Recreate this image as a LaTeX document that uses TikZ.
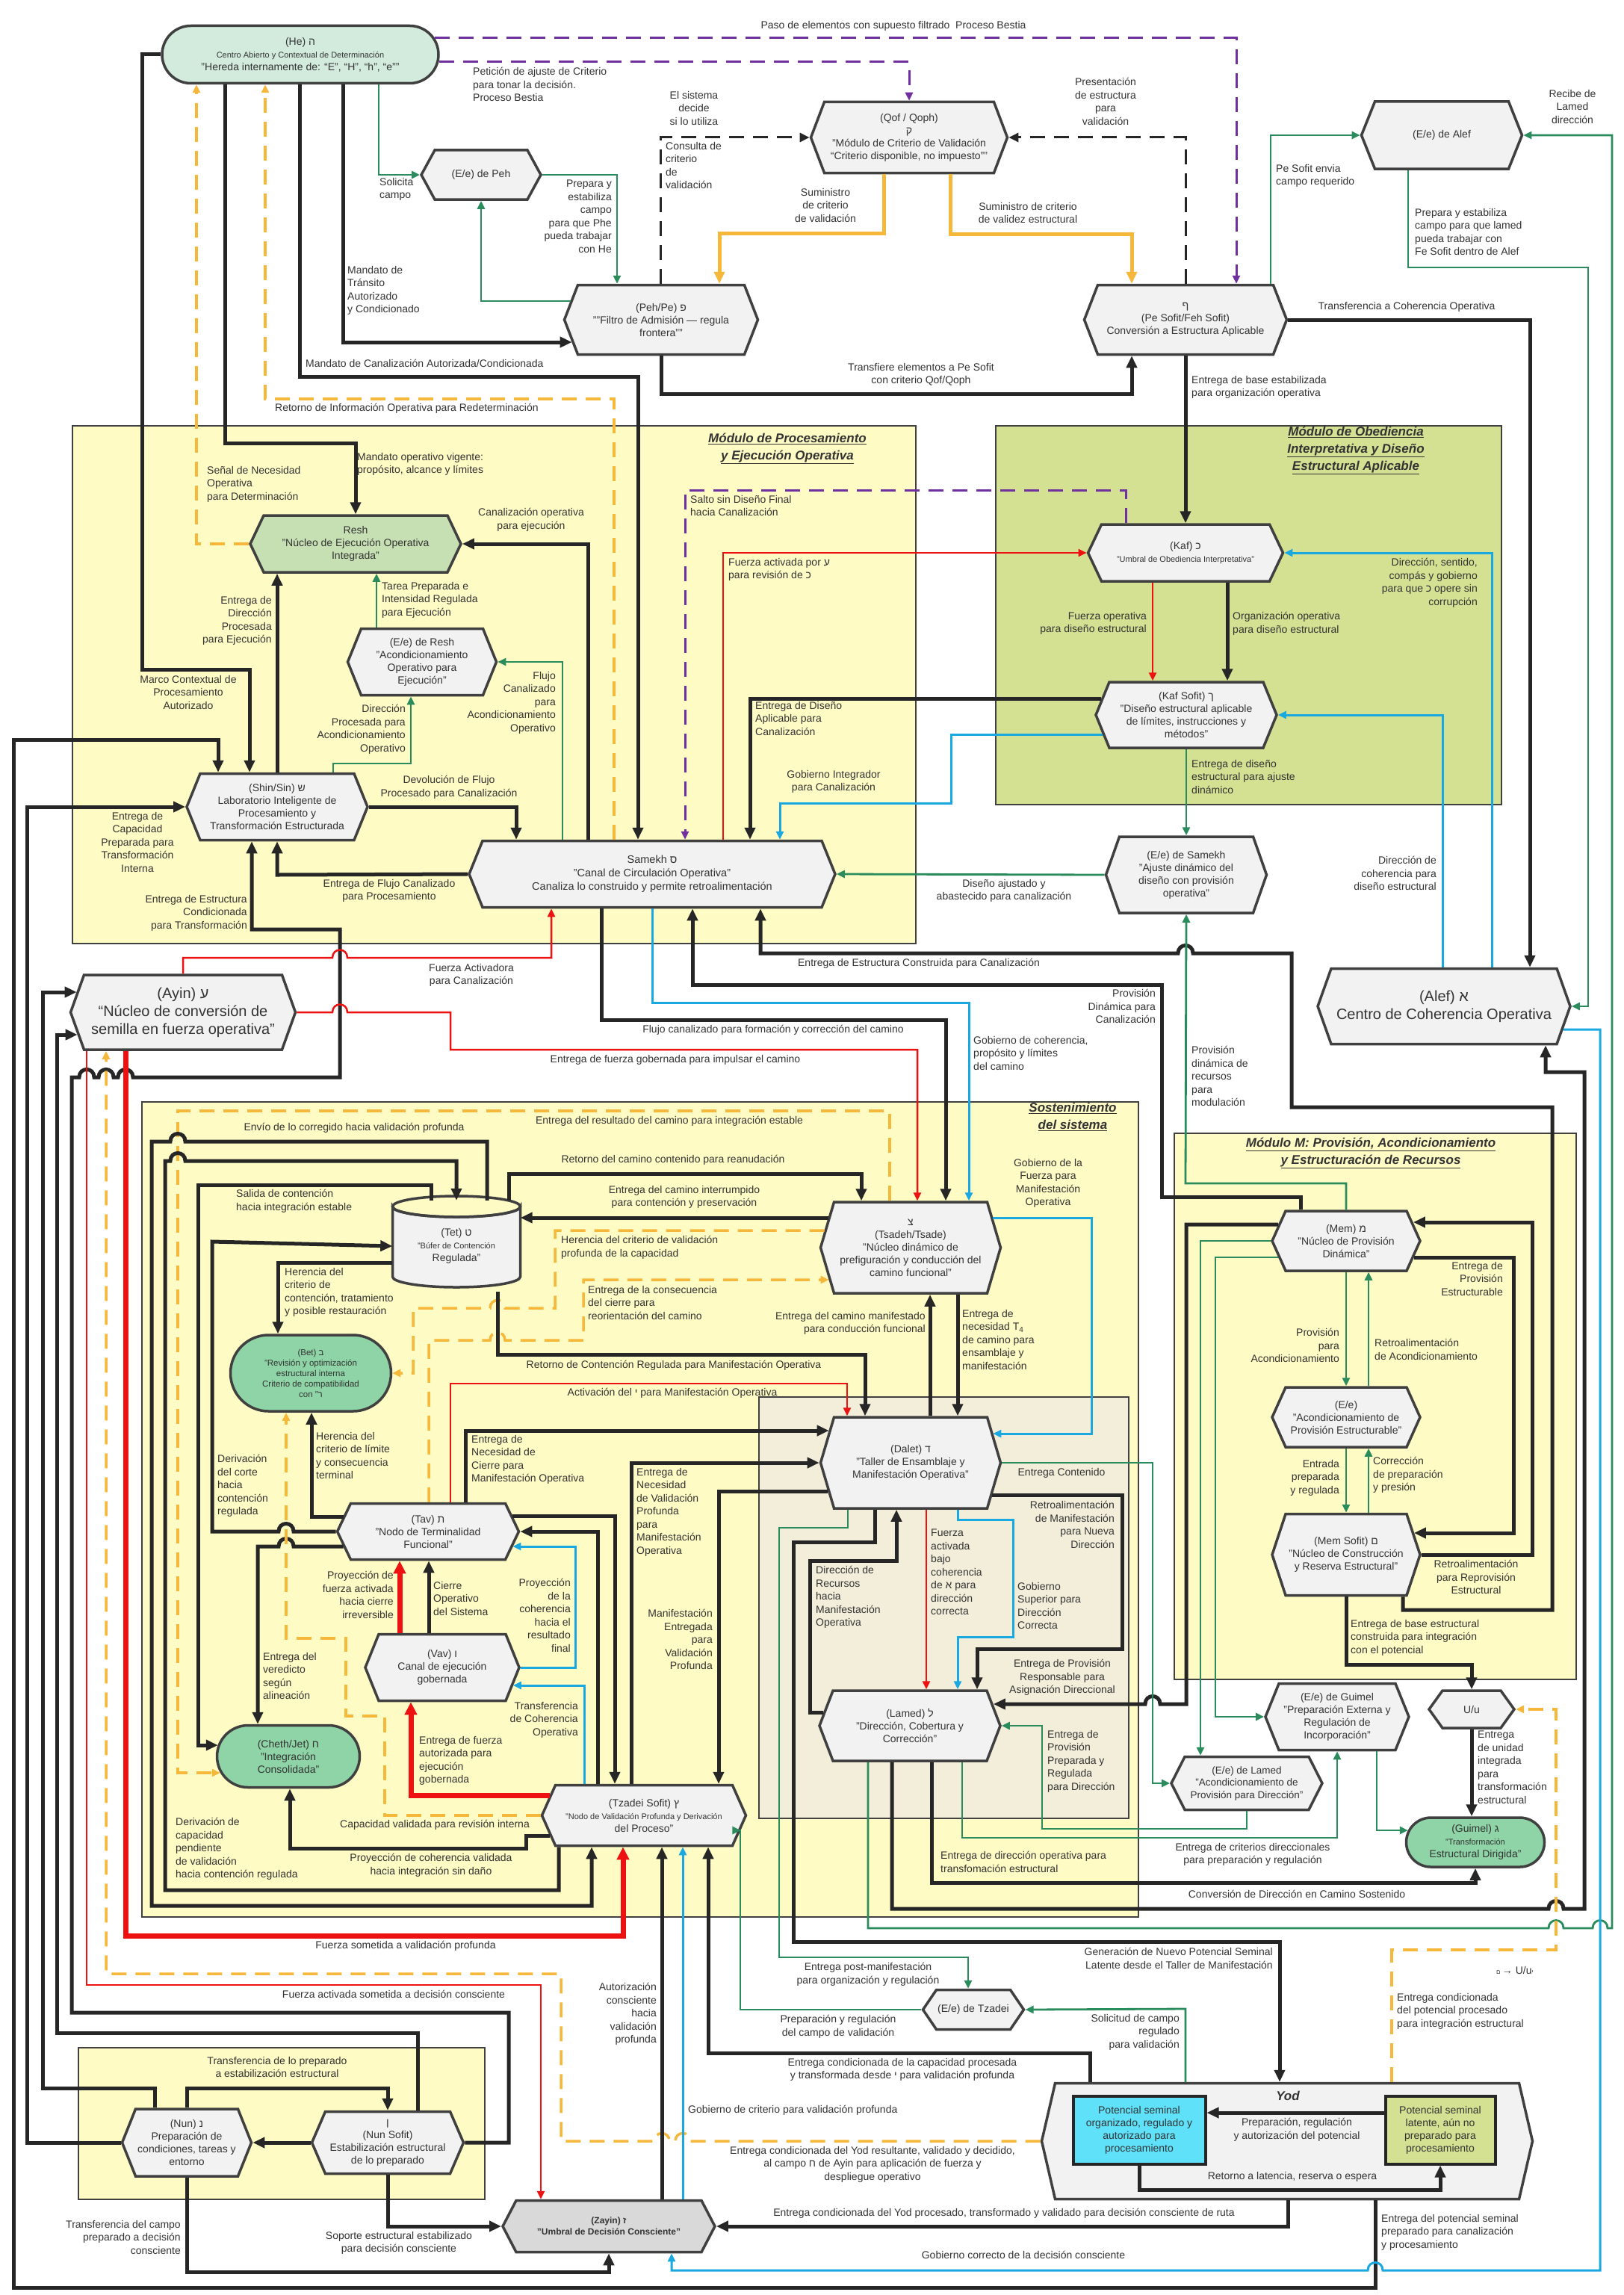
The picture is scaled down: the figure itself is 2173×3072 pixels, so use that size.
\documentclass[tikz,border=0pt]{standalone}
\usepackage{fontspec}
\setmainfont{Liberation Sans}
\usetikzlibrary{shapes.symbols,shapes.misc,arrows.meta,calc}
\definecolor{bd}{HTML}{404040}
\definecolor{dk}{HTML}{262626}
\definecolor{hexf}{HTML}{F2F2F2}
\definecolor{hef}{HTML}{D2EBDD}
\definecolor{reshf}{HTML}{C6E0B4}
\definecolor{pillg}{HTML}{8ED4A6}
\definecolor{myel}{HTML}{FFFBC4}
\definecolor{ogreen}{HTML}{D4E193}
\definecolor{beige}{HTML}{F3EEDA}
\definecolor{zayf}{HTML}{D9D9D9}
\definecolor{cyb}{HTML}{5FE1FA}
\definecolor{cgn}{HTML}{2A8C5C}
\definecolor{cyel}{HTML}{F6B83A}
\definecolor{cpu}{HTML}{7030A0}
\definecolor{crd}{HTML}{EE1111}
\definecolor{ccy}{HTML}{1AA8E0}
\definecolor{txt}{HTML}{333333}
\newcommand\FS[2]{\fontsize{#1}{#2}\selectfont}
\tikzset{
 hx/.style={signal, signal to=east and west, signal pointer angle=#1, draw=bd, line width=3.5pt, fill=hexf, align=center, inner sep=0pt, text=txt, font=\FS{14}{17}},
 pil/.style={rounded rectangle, draw=bd, line width=3.5pt, align=center, inner sep=0pt, text=txt, font=\FS{14}{17}},
 modbox/.style={draw=bd, line width=2pt},
 lb/.style={anchor=north west, align=left, inner sep=0pt, text=txt, font=\FS{14}{17.5}},
 lr/.style={anchor=north east, align=right, inner sep=0pt, text=txt, font=\FS{14}{17.5}},
 lc/.style={anchor=north, align=center, inner sep=0pt, text=txt, font=\FS{14}{17.5}},
 ttl/.style={anchor=north, align=center, inner sep=0pt, text=txt, font=\FS{17}{23}\bfseries\itshape},
 bk/.style={draw=dk, line width=5pt, -{Triangle[length=16pt,width=14pt]}},
 gn/.style={draw=cgn, line width=2.8pt, -{Triangle[length=11pt,width=10pt]}},
 cy/.style={draw=ccy, line width=3pt, -{Triangle[length=11pt,width=10pt]}},
 rd/.style={draw=crd, line width=2.5pt, -{Triangle[length=11pt,width=10pt]}},
 rdt/.style={draw=crd, line width=7pt, -{Triangle[length=17pt,width=16pt]}},
 yd/.style={draw=cyel, line width=3.5pt, dash pattern=on 20pt off 12pt, -{Triangle[length=11pt,width=10pt]}},
 ys/.style={draw=cyel, line width=5pt, -{Triangle[length=16pt,width=14pt]}},
 pd/.style={draw=cpu, line width=3pt, dash pattern=on 20pt off 12pt, -{Triangle[length=11pt,width=10pt]}},
 kd/.style={draw=dk, line width=3pt, dash pattern=on 20pt off 12pt, -{Triangle[length=13pt,width=12pt]}},
}
\begin{document}
\begin{tikzpicture}[x=1pt,y=-1pt]
\useasboundingbox (0,0) rectangle (2173,3072);
\fill[white] (0,0) rectangle (2173,3072);
% ---------- module boxes
\draw[modbox, fill=myel] (97,570) rectangle (1226,1263);
\draw[modbox, fill=ogreen] (1333,570) rectangle (2010,1077);
\draw[modbox, fill=myel] (190,1475) rectangle (1524,2566);
\draw[modbox, fill=beige] (1016,1870) rectangle (1511,2434);
\draw[modbox, fill=myel] (1572,1517) rectangle (2110,2248);
\draw[modbox, fill=myel] (105,2741) rectangle (649,2944);
\node[ttl] (T1) at (1054,580) {\underline{Módulo de Procesamiento}\\\underline{y Ejecución Operativa}};
\node[ttl] (T2) at (1815,571) {\underline{Módulo de Obediencia}\\\underline{Interpretativa y Diseño}\\\underline{Estructural Aplicable}};
\node[ttl] (T3) at (1436,1476) {\underline{Sostenimiento}\\\underline{del sistema}};
\node[ttl] (T4) at (1835,1523) {\underline{Módulo M: Provisión, Acondicionamiento}\\\underline{y Estructuración de Recursos}};
% ---------- Tet cylinder outline
\filldraw[fill=hexf, draw=bd, line width=3.5pt] (525.5,1615) -- (525.5,1709) arc[start angle=180, end angle=0, x radius=85.5, y radius=14] -- (696.5,1615) arc[start angle=0, end angle=180, x radius=85.5, y radius=14] -- cycle;
\draw[draw=bd, line width=3.5pt] (611,1615) ellipse[x radius=85.5, y radius=14];
% ---------- nodes
\node[pil, fill=hef, minimum width=370pt, minimum height=77pt] (he) at (402,73) {(He) ה\\{\FS{11}{14}Centro Abierto y Contextual de Determinación}\\"Hereda internamente de: “E”, “H”, “h”, “e”"};
\node[hx=122.8, minimum width=160pt, minimum height=66pt] (pehE) at (644,234) {(E/e) de Peh};
\node[hx=137.6, minimum width=259pt, minimum height=93pt] (peh) at (885,428) {(Peh/Pe) פ\\""Filtro de Admisión — regula\\frontera""};
\node[hx=138.5, minimum width=263pt, minimum height=95pt] (qof) at (1217,184) {(Qof / Qoph)\\ק\\"Módulo de Criterio de Validación\\“Criterio disponible, no impuesto”"};
\node[hx=137.6, minimum width=271pt, minimum height=93pt] (pesof) at (1587,428) {ף\\(Pe Sofit/Feh Sofit)\\Conversión a Estructura Aplicable};
\node[hx=136.4, minimum width=215pt, minimum height=90pt] (alefE) at (1930,181) {(E/e) de Alef};
\node[hx=129.3, fill=reshf, minimum width=282pt, minimum height=76pt] (resh) at (476,728) {Resh\\"Núcleo de Ejecución Operativa\\Integrada"};
\node[hx=136, minimum width=199pt, minimum height=89pt] (reshE) at (565,886) {(E/e) de Resh\\"Acondicionamiento\\Operativo para\\Ejecución"};
\node[hx=136, minimum width=242pt, minimum height=89pt] (shin) at (371,1080) {(Shin/Sin) ש\\Laboratorio Inteligente de\\Procesamiento y\\Transformación Estructurada};
\node[hx=136, minimum width=490pt, minimum height=89pt, font=\FS{14.5}{18}] (samekh) at (873,1170) {Samekh ס\\"Canal de Circulación Operativa"\\Canaliza lo construido y permite retroalimentación};
\node[hx=129.3, minimum width=261pt, minimum height=76pt] (kaf) at (1587,740) {(Kaf) כ\\{\FS{11}{14}"Umbral de Obediencia Interpretativa"}};
\node[hx=135.5, minimum width=242pt, minimum height=88pt] (kafsof) at (1588,957) {(Kaf Sofit) ך\\"Diseño estructural aplicable\\de límites, instrucciones y\\métodos"};
\node[hx=141.2, minimum width=215pt, minimum height=102pt] (samekhE) at (1588,1171) {(E/e) de Samekh\\"Ajuste dinámico del\\diseño con provisión\\operativa"};
\node[hx=140.8, minimum width=338pt, minimum height=101pt, font=\FS{20}{24}] (alef) at (1933,1347) {(Alef) א\\Centro de Coherencia Operativa};
\node[hx=140.4, minimum width=301pt, minimum height=100pt, font=\FS{20}{24}] (ayin) at (245,1355) {(Ayin) ע\\“Núcleo de conversión de\\semilla en fuerza operativa”};
\node[inner sep=0pt, minimum width=171pt, minimum height=122pt, align=center, text=txt, font=\FS{14}{17}] (tet) at (611,1668) {(Tet) ט\\\FS{11}{14}"Búfer de Contención\\Regulada"};
\node[pil, fill=pillg, minimum width=215pt, minimum height=102pt, font=\FS{11.5}{14}] (bet) at (416,1838) {(Bet) ב\\"Revisión y optimización\\estructural interna\\Criterio de compatibilidad\\con ר"};
\node[hx=128.8, minimum width=243pt, minimum height=75pt] (tav) at (573,2050) {(Tav) ת\\"Nodo de Terminalidad\\Funcional"};
\node[hx=136, minimum width=206pt, minimum height=89pt] (vav) at (592,2232) {(Vav) ו\\Canal de ejecución\\gobernada};
\node[pil, fill=pillg, minimum width=191pt, minimum height=83pt] (cheth) at (386,2351) {(Cheth/Jet) ח\\"Integración\\Consolidada"};
\node[hx=132, minimum width=273pt, minimum height=81pt] (tzsof) at (862,2430) {(Tzadei Sofit) ץ\\\FS{11}{14}"Nodo de Validación Profunda y Derivación\\del Proceso"};
\node[hx=147.1, minimum width=241pt, minimum height=122pt] (tsadeh) at (1219,1670) {צ\\(Tsadeh/Tsade)\\"Núcleo dinámico de\\prefiguración y conducción del\\camino funcional"};
\node[hx=147.1, minimum width=241pt, minimum height=122pt] (dalet) at (1219,1958) {(Dalet) ד\\"Taller de Ensamblaje y\\Manifestación Operativa"};
\node[hx=138, minimum width=242pt, minimum height=94pt] (lamed) at (1218,2310) {(Lamed) ל\\"Dirección, Cobertura y\\Corrección"};
\node[hx=131.5, minimum width=198pt, minimum height=80pt] (mem) at (1802,1661) {(Mem) מ\\"Núcleo de Provisión\\Dinámica"};
\node[hx=131.5, minimum width=198pt, minimum height=80pt] (memE) at (1802,1897) {(E/e)\\"Acondicionamiento de\\Provisión Estructurable"};
\node[hx=143.4, minimum width=198pt, minimum height=109pt] (memsof) at (1802,2081) {(Mem Sofit) ם\\"Núcleo de Construcción\\y Reserva Estructural"};
\node[hx=136, minimum width=192pt, minimum height=89pt] (guimelE) at (1790,2298) {(E/e) de Guimel\\"Preparación Externa y\\Regulación de\\Incorporación"};
\node[hx=108.5, minimum width=114pt, minimum height=50pt] (uu) at (1970,2288) {U/u};
\node[hx=126.2, minimum width=202pt, minimum height=71pt, font=\FS{13.5}{16.5}] (lamedE) at (1669,2387) {(E/e) de Lamed\\"Acondicionamiento de\\Provisión para Dirección"};
\node[pil, fill=pillg, minimum width=185pt, minimum height=66pt] (guimel) at (1975,2466) {(Guimel) ג\\\FS{11}{14}"Transformación\\Estructural Dirigida"};
\node[hx=111.6, minimum width=135pt, minimum height=53pt] (tzE) at (1303,2690) {(E/e) de Tzadei};
\node[hx=153.9, minimum width=657pt, minimum height=155pt] (yod) at (1723,2866) {};
\node[font=\FS{17}{20}\bfseries\itshape, text=txt, inner sep=0pt] (yodt) at (1724,2805) {Yod};
\node[draw=dk, line width=4pt, fill=cyb, minimum width=177pt, minimum height=91pt, align=center, inner sep=0pt, text=txt, font=\FS{14}{17}] (potA) at (1525,2851) {Potencial seminal\\organizado, regulado y\\autorizado para\\procesamiento};
\node[draw=dk, line width=4pt, fill=ogreen, minimum width=147pt, minimum height=91pt, align=center, inner sep=0pt, text=txt, font=\FS{14}{17}] (potB) at (1928,2851) {Potencial seminal\\latente, aún no\\preparado para\\procesamiento};
\node[hx=125, fill=zayf, minimum width=284pt, minimum height=69pt, font=\FS{12}{15}\bfseries] (zayin) at (815,2980) {(Zayin) ז\\"Umbral de Decisión Consciente"};
\node[hx=136.4, minimum width=173pt, minimum height=90pt] (nun) at (250,2868) {(Nun) נ\\Preparación de\\condiciones, tareas y\\entorno};
\node[hx=133.2, minimum width=203pt, minimum height=83pt] (nunsof) at (519,2868) {ן\\(Nun Sofit)\\Estabilización estructural\\de lo preparado};
% ---------- connectors: top
\draw[bk] (he.west) -- (190,73) -- (190,896) -- (334,896) -- (shin.north -| 334,0);
\draw[bk] (he.south -| 301,0) -- (301,593) -- (476,593) -- (resh.north);
\draw[yd] (resh.west) -- (263,728) -- (he.south -| 263,0);
\draw[yd] (samekh.north -| 822,0) -- (822,534) -- (355,534) -- (he.south -| 355,0);
\draw[bk] (he.south -| 401,0) -- (401,504) -- (854,504) -- (samekh.north -| 854,0);
\draw[bk] (he.south -| 459,0) -- (459,458) -- ($(peh.west)+(12,30)$);
\draw[gn] (he.south -| 507,0) -- (507,234) -- (pehE.west);
\draw[gn] (pehE.east) -- (826,234) -- (peh.north -| 826,0);
\draw[gn] ($(peh.west)+(10,-25)$) -- (644,403) -- (pehE.south);
\draw[pd] ($(he.east)+(-7,-22)$) -- (1655,51) -- (pesof.north -| 1655,0);
\draw[pd] ($(he.east)+(-1,10)$) -- (1217,83) -- (qof.north);
\draw[kd] (peh.north -| 884,0) -- (884,184) -- (qof.west);
\draw[kd] (pesof.north) -- (1587,184) -- (qof.east);
\draw[ys] (qof.south -| 1183,0) -- (1183,312) -- (963,312) -- (peh.north -| 963,0);
\draw[ys] (qof.south -| 1272,0) -- (1272,313) -- (1515,313) -- (pesof.north -| 1515,0);
\draw[bk] (peh.south) -- (885,527) -- (1515,527) -- (pesof.south -| 1515,0);
\draw[gn] (pesof.north -| 1701,0) -- (1701,181) -- (alefE.west);
\draw[gn] (alefE.south -| 1885,0) -- (1885,358) -- (2126,358) -- (2126,1347) -- (alef.east);
\draw[gn] (lamed.south -| 1162,0) -- (1162,2581) -- (2073,2581) .. controls (2073,2567) and (2093,2567) .. (2093,2581) -- (2132,2581) .. controls (2132,2567) and (2152,2567) .. (2152,2581) -- (2158,2581) -- (2158,181) -- (alefE.east);
\draw[bk] (pesof.east) -- (2048,428) -- (alef.north -| 2048,0);
\draw[bk] (pesof.south) -- (kaf.north);
\draw[pd] (kaf.north -| 1507,0) -- (1507,656) -- (917,656) -- (samekh.north -| 917,0);
\draw[rd] (samekh.north -| 968,0) -- (968,740) -- (kaf.west);
\draw[bk] (samekh.north -| 787,0) -- (787,728) -- (resh.east);
\draw[gn] (samekh.north -| 753,0) -- (753,886) -- (reshE.east);
\draw[gn] (shin.north -| 446,0) -- (446,1022) -- (550,1022) -- (reshE.south -| 550,0);
\draw[gn] (reshE.north -| 504,0) -- (resh.south -| 504,0);
\draw[bk] (shin.north) -- (resh.south -| 371,0);
\draw[bk] (shin.east) -- (691,1080) -- (samekh.north -| 691,0);
\draw[bk] (samekh.west) -- (371,1171) -- (shin.south);
% ---------- left long lines
\draw[bk] (yod.south -| 1841,0) -- (1841,3062) -- (18,3062) -- (18,990) -- (292,990) -- (shin.north -| 292,0);
\draw[bk] (nun.west) -- (36,2868) -- (36,1080) -- (shin.west);
\draw[bk] (nun.north -| 207,0) -- (207,2795) -- (57,2795) -- (57,1328) -- ($(ayin.west)+(10,-27)$);
\draw[bk] (nunsof.north -| 559,0) -- (559,2721) -- (76,2721) -- (76,1385) -- ($(ayin.west)+(11,30)$);
\draw[bk] (nunsof.east) -- (681,2868) -- (681,2694) -- (96,2694) -- (96,1442) -- (106,1442) .. controls (106,1428) and (126,1428) .. (126,1442) -- (132,1442) .. controls (132,1428) and (152,1428) .. (152,1442) -- (158,1442) .. controls (158,1428) and (178,1428) .. (178,1442) -- (455,1442) -- (455,1244) -- (337,1244) -- (shin.south -| 337,0);
\draw[rd] (ayin.south -| 116,0) -- (116,2657) -- (724,2657) -- (zayin.north -| 724,0);
\draw[rdt] (ayin.south -| 168,0) -- (168,2591) -- (834,2591) -- (tzsof.south -| 834,0);
\draw[yd] (yod.west) -- (924,2866) .. controls (924,2852) and (904,2852) .. (904,2866) -- (896,2866) .. controls (896,2852) and (876,2852) .. (876,2866) -- (751,2866) -- (751,2642) -- (142,2642) -- (ayin.south -| 142,0);
\draw[rd] (ayin.north) -- (245,1282) -- (445,1282) .. controls (445,1268) and (465,1268) .. (465,1282) -- (738,1282) -- (samekh.south -| 738,0);
\draw[rd] (ayin.east) -- (445,1355) .. controls (445,1341) and (465,1341) .. (465,1355) -- (603,1355) -- (603,1405) -- (1228,1405) -- (tsadeh.north -| 1228,0);
% ---------- samekh bottom
\draw[bk] (samekh.south -| 805,0) -- (805,1365) -- (1266,1365) -- (tsadeh.north -| 1266,0);
\draw[cy] (samekh.south -| 873,0) -- (873,1342) -- (1297,1342) -- (tsadeh.north -| 1297,0);
\draw[bk] (mem.north -| 1741,0) -- (1741,1602) -- (1555,1602) -- (1555,1318) -- (927,1318) -- (samekh.south -| 927,0);
\draw[bk] (memsof.south -| 1878,0) -- (1878,2155) -- (2078,2155) -- (2078,1482) -- (1729,1482) -- (1729,1276) -- (1597,1276) .. controls (1597,1262) and (1577,1262) .. (1577,1276) -- (1018,1276) -- (samekh.south -| 1018,0);
% ---------- module M
\draw[bk] (memsof.east) -- (2051,2081) -- (2051,1636) -- ($(mem.east)+(-11,-25)$);
\draw[bk] ($(mem.east)+(-10,22)$) -- (2026,1683) -- (2026,2052) -- ($(memsof.east)+(-10,-29)$);
\draw[bk] (memsof.south) -- (1802,2228) -- (1970,2228) -- (uu.north);
\draw[gn] (mem.south) -- (memE.north);
\draw[gn] (memE.north -| 1832,0) -- (mem.south -| 1832,0);
\draw[gn] (memE.south) -- (memsof.north);
\draw[gn] (memsof.north -| 1832,0) -- (memE.south -| 1832,0);
\draw[bk] ($(mem.west)+(10,-22)$) -- (1588,1639) -- (1588,2281) -- (1553,2281) .. controls (1553,2267) and (1533,2267) .. (1533,2281) -- ($(lamed.east)+(-11,-29)$);
\draw[gn] (mem.west) -- (1607,1661) -- (lamedE.north -| 1607,0);
\draw[gn] ($(mem.west)+(10,22)$) -- (1627,1683) -- (1627,2298) -- (guimelE.west);
% ---------- kaf region
\draw[bk] (kaf.south -| 1643,0) -- (kafsof.north -| 1643,0);
\draw[rd] (kaf.south -| 1543,0) -- (kafsof.north -| 1543,0);
\draw[cy] (alef.north -| 1997,0) -- (1997,740) -- (kaf.east);
\draw[cy] (alef.north -| 1931,0) -- (1931,957) -- (kafsof.east);
\draw[gn] (kafsof.south) -- (samekhE.north);
\draw[bk] ($(kafsof.west)+(9,-22)$) -- (1004,935) -- (samekh.north -| 1004,0);
\draw[cy] ($(kafsof.west)+(11,26)$) -- (1273,983) -- (1273,1075) -- (1044,1075) -- (samekh.north -| 1044,0);
\draw[gn] (samekhE.west) -- (samekh.east);
\draw[gn] (mem.north) -- (1802,1584) -- (1587,1584) -- (samekhE.south);
\draw[cy] ($(alef.east)+(-11,31)$) -- (2142,1378) -- (2142,3039) -- (1851,3039) .. controls (1851,3025) and (1831,3025) .. (1831,3039) -- (899,3039) -- (zayin.south -| 899,0);
% ---------- lamed region
\draw[bk] (lamed.south -| 1194,0) -- (1194,2555) -- (2073,2555) .. controls (2073,2541) and (2093,2541) .. (2093,2555) -- (2121,2555) -- (2121,1435) -- (2069,1435) -- (alef.south -| 2069,0);
\draw[bk] (lamed.south -| 1247,0) -- (1247,2520) -- (1975,2520) -- (guimel.south);
\draw[gn] (lamed.south -| 1288,0) -- (1288,2460) -- (1790,2460) -- (guimelE.south);
\draw[gn] (lamedE.south) -- (1669,2448) -- (1395,2448) -- (1395,2310) -- (lamed.east);
\draw[gn] (guimelE.south -| 1843,0) -- (1843,2450) -- ($(guimel.west)+(4,-16)$);
\draw[bk] (uu.south) -- (guimel.north -| 1970,0);
\draw[yd] (yod.north -| 1863,0) -- (1863,2610) -- (2083,2610) -- (2083,2288) -- (uu.east);
% ---------- dalet region
\draw[bk] (dalet.south -| 1171,0) -- (1171,2064) -- (1062,2064) -- (1062,2599) -- (1713,2599) -- (yod.north -| 1713,0);
\draw[rd] (dalet.south -| 1240,0) -- (lamed.north -| 1240,0);
\draw[cy] (dalet.south -| 1282,0) -- (1282,2034) -- (1356,2034) -- (1356,2191) -- (1282,2191) -- (lamed.north -| 1282,0);
\draw[bk] ($(dalet.east)+(-13,43)$) -- (1502,2001) -- (1502,2207) -- (1308,2207) -- (lamed.north -| 1308,0);
\draw[gn] (dalet.east) -- (1543,1958) -- (1543,2387) -- (lamedE.west);
\draw[bk] ($(lamed.west)+(7,-18)$) -- (1084,2292) -- (1084,2089) -- (1200,2089) -- (dalet.south -| 1200,0);
\draw[gn] (dalet.south -| 1135,0) -- (1135,2045) -- (1043,2045) -- (1043,2620) -- (1296,2620) -- (tzE.north -| 1296,0);
\draw[gn] (tzE.west) -- (991,2690) -- (991,2450) -- ($(tzsof.east)+(-9,20)$);
\draw[gn] (yod.north -| 1587,0) -- (1587,2689) -- (tzE.east);
\draw[bk] (yod.north -| 1459,0) -- (1459,2748) -- (948,2748) -- (tzsof.south -| 948,0);
\draw[cy] (zayin.north -| 914,0) -- (tzsof.south -| 914,0);
\draw[bk] (zayin.north -| 886,0) -- (tzsof.south -| 886,0);
\draw[bk] (yod.south -| 1724,0) -- (1724,2980) -- (zayin.east);
\draw[bk] ($(potB.west)+(0,-23)$) -- ($(potA.east)+(0,-23)$);
\draw[bk] (potA.south) -- (1525,2931) -- (1928,2931) -- (potB.south);
% ---------- nun
\draw[bk] (nunsof.south) -- (519,2980) -- (zayin.west);
\draw[bk] (nun.south) -- (250,3041) -- (815,3041) -- (zayin.south);
\draw[bk] (nun.north) -- (250,2795) -- (519,2795) -- (nunsof.north);
\draw[bk] (nunsof.west) -- (nun.east);
% ---------- sostenimiento
\draw[yd] (tsadeh.north -| 1191,0) -- (1191,1487) -- (238,1487) -- (238,2373) -- ($(cheth.west)+(6,22)$);
\draw[bk] (tet.north -| 652,0) -- (652,1528) -- (248,1528) .. controls (248,1514) and (228,1514) .. (228,1528) -- (203,1528) -- (203,2551) -- (792,2551) -- (tzsof.south -| 792,0);
\draw[bk] (tzsof.south -| 748,0) -- (748,2530) -- (221,2530) -- (221,1554) -- (228,1554) .. controls (228,1540) and (248,1540) .. (248,1554) -- (611,1554) -- (tet.north);
\draw[bk] (tet.north -| 577,0) -- (577,1586) -- (265,1586) -- (265,2336) -- ($(cheth.west)+(3,-15)$);
\draw[bk] (tav.west) -- (393,2050) .. controls (393,2036) and (373,2036) .. (373,2050) -- (284,2050) -- (284,1662) -- (tet.west);
\draw[bk] ($(tet.west)+(0,22)$) -- (372,1690) -- (bet.north -| 372,0);
\draw[bk] ($(tav.west)+(10,-20)$) -- (417,2030) -- (bet.south -| 417,0);
\draw[bk] ($(tav.west)+(10,20)$) -- (393,2070) .. controls (393,2056) and (373,2056) .. (373,2070) -- (345,2070) -- (cheth.north -| 345,0);
\draw[yd] ($(tsadeh.west)+(7,-23)$) -- (743,1647) -- (743,1751) -- (676,1751) .. controls (676,1737) and (656,1737) .. (656,1751) -- (553,1751) -- (553,1838) -- (bet.east);
\draw[yd] (tav.north -| 574,0) -- (574,1794) -- (656,1794) .. controls (656,1780) and (676,1780) .. (676,1794) -- (781,1794) -- (781,1713) -- ($(tsadeh.west)+(13,43)$);
\draw[yd] (tzsof.west) -- (515,2430) -- (515,2297) -- (463,2297) -- (463,2193) -- (383,2193) -- (bet.south -| 383,0);
\draw[bk] ($(tzsof.west)+(12,27)$) -- (704,2457) -- (704,2474) -- (388,2474) -- (cheth.south -| 388,0);
\draw[rdt] ($(tzsof.west)+(12,-27)$) -- (550,2403) -- (vav.south -| 550,0);
\draw[rdt] (vav.north -| 535,0) -- (tav.south -| 535,0);
\draw[bk] (vav.north -| 574,0) -- (tav.south -| 574,0);
\draw[cy] (vav.east) -- (770,2232) -- (770,2070) -- ($(tav.east)+(-10,20)$);
\draw[cy] (tzsof.north -| 782,0) -- (782,2256) -- ($(vav.east)+(-10,24)$);
\draw[bk] (tzsof.north -| 800,0) -- (800,2050) -- (tav.east);
\draw[bk] ($(tav.east)+(-10,-21)$) -- (823,2029) -- (tzsof.north -| 823,0);
\draw[bk] (tzsof.north -| 845,0) -- (845,1958) -- (dalet.west);
\draw[bk] ($(dalet.west)+(11,38)$) -- (962,1996) -- (tzsof.north -| 962,0);
\draw[bk] (tav.north -| 623,0) -- (623,1915) -- ($(dalet.west)+(13,-43)$);
\draw[rd] (tav.north -| 603,0) -- (603,1852) -- (1134,1852) -- (dalet.north -| 1134,0);
\draw[bk] (tet.south -| 666,0) -- (666,1813) -- (1158,1813) -- (dalet.north -| 1158,0);
\draw[bk] (tet.north -| 681,0) -- (681,1571) -- (1153,1571) -- (tsadeh.north -| 1153,0);
\draw[bk] ($(tsadeh.west)+(12,-40)$) -- ($(tet.east)+(0,-38)$);
\draw[bk] (dalet.north -| 1245,0) -- (tsadeh.south -| 1245,0);
\draw[bk] (tsadeh.south -| 1282,0) -- (dalet.north -| 1282,0);
\draw[cy] ($(tsadeh.east)+(-12,-40)$) -- (1461,1630) -- (1461,1919) -- ($(dalet.east)+(-12,-39)$);
% ---------- labels
\node[lc] (L1) at (252,904) {Marco Contextual de\\Procesamiento\\Autorizado};
\node[lb] (L2) at (478,606) {Mandato operativo vigente:\\propósito, alcance y límites};
\node[lb] (L3) at (277,624) {Señal de Necesidad\\Operativa\\para Determinación};
\node[lb] (L4) at (368,540) {Retorno de Información Operativa para Redeterminación};
\node[lb] (L5) at (409,481) {Mandato de Canalización Autorizada/Condicionada};
\node[lb] (L6) at (465,356) {Mandato de\\Tránsito\\Autorizado\\y Condicionado};
\node[lb] (L7) at (508,238) {Solicita\\campo};
\node[lr] (L8) at (819,241) {Prepara y\\estabiliza\\campo\\para que Phe\\pueda trabajar\\con He};
\node[lc] (L9) at (1196,28) {Paso de elementos con supuesto filtrado\ \ Proceso Bestia};
\node[lb] (L10) at (633,90) {Petición de ajuste de Criterio\\para tonar la decisión.\\Proceso Bestia};
\node[lc] (L11) at (929,122) {El sistema\\decide\\si lo utiliza};
\node[lb] (L12) at (891,190) {Consulta de\\ criterio\\de\\validación};
\node[lc] (L13) at (1480,104) {Presentación\\de estructura\\para\\validación};
\node[lc] (L14) at (1105,252) {Suministro\\de criterio\\de validación};
\node[lc] (L15) at (1376,271) {Suministro de criterio\\de validez estructural};
\node[lc] (L16) at (1233,486) {Transfiere elementos a Pe Sofit\\con criterio Qof/Qoph};
\node[lb] (L17) at (1708,220) {Pe Sofit envia\\campo requerido};
\node[lb] (L18) at (1894,279) {Prepara y estabiliza\\campo para que lamed\\pueda trabajar con\\Fe Sofit dentro de Alef};
\node[lc] (L19) at (2105,120) {Recibe de\\Lamed\\dirección};
\node[lc] (L20) at (1883,404) {Transferencia a Coherencia Operativa};
\node[lb] (L21) at (1595,503) {Entrega de base estabilizada\\para organización operativa};
\node[lb] (L22) at (924,663) {Salto sin Diseño Final\\hacia Canalización};
\node[lb] (L23) at (975,747) {Fuerza activada por ע\\para revisión de כ};
\node[lc] (L24) at (711,680) {Canalización operativa\\para ejecución};
\node[lr] (L25) at (744,899) {Flujo\\Canalizado\\para\\Acondicionamiento\\Operativo};
\node[lr] (L26) at (543,943) {Dirección\\Procesada para\\Acondicionamiento\\Operativo};
\node[lb] (L27) at (511,779) {Tarea Preparada e\\Intensidad Regulada\\para Ejecución};
\node[lr] (L28) at (364,798) {Entrega de\\Dirección\\Procesada\\para Ejecución};
\node[lc] (L29) at (601,1038) {Devolución de Flujo\\Procesado para Canalización};
\node[lc] (L30) at (521,1177) {Entrega de Flujo Canalizado\\para Procesamiento};
\node[lb] (L31) at (1849,2964) {Entrega del potencial seminal\\preparado para canalización\\y procesamiento};
\node[lc] (L32) at (184,1087) {Entrega de\\Capacidad\\Preparada para\\Transformación\\Interna};
\node[lr] (L33) at (331,1198) {Entrega de Estructura\\Condicionada\\para Transformación};
\node[lc] (L34) at (527,2664) {Fuerza activada sometida a decisión consciente};
\node[lc] (L35) at (543,2598) {Fuerza sometida a validación profunda};
\node[lc] (L36) at (1168,2873) {Entrega condicionada del Yod resultante, validado y decidido,\\al campo ח de Ayin para aplicación de fuerza y\\despliegue operativo};
\node[lc] (L37) at (631,1290) {Fuerza Activadora\\para Canalización};
\node[lc] (L38) at (904,1412) {Entrega de fuerza gobernada para impulsar el camino};
\node[lc] (L39) at (1035,1372) {Flujo canalizado para formación y corrección del camino};
\node[lb] (L40) at (1303,1387) {Gobierno de coherencia,\\propósito y límites\\del camino};
\node[lr] (L41) at (1547,1324) {Provisión\\Dinámica para\\Canalización};
\node[lc] (L42) at (1230,1283) {Entrega de Estructura Construida para Canalización};
\node[lc] (L43) at (1976,2088) {Retroalimentación\\para Reprovisión\\Estructural};
\node[lr] (L44) at (2012,1689) {Entrega de\\Provisión\\Estructurable};
\node[lb] (L45) at (1808,2168) {Entrega de base estructural\\construida para integración\\con el potencial};
\node[lr] (L46) at (1793,1778) {Provisión\\para\\Acondicionamiento};
\node[lb] (L47) at (1840,1792) {Retroalimentación\\de Acondicionamiento};
\node[lr] (L48) at (1793,1954) {Entrada\\preparada\\y regulada};
\node[lb] (L49) at (1838,1950) {Corrección\\de preparación\\y presión};
\node[lc] (L50) at (1422,2221) {Entrega de Provisión\\Responsable para\\Asignación Direccional};
\node[lb] (L51) at (1650,819) {Organización operativa\\para diseño estructural};
\node[lr] (L52) at (1535,819) {Fuerza operativa\\para diseño estructural};
\node[lr] (L53) at (1978,747) {Dirección, sentido,\\compás y gobierno\\para que כ opere sin\\corrupción};
\node[lr] (L54) at (1923,1146) {Dirección de\\coherencia para\\diseño estructural};
\node[lb] (L55) at (1595,1017) {Entrega de diseño\\estructural para ajuste\\dinámico};
\node[lb] (L56) at (1011,939) {Entrega de Diseño\\Aplicable para\\Canalización};
\node[lc] (L57) at (1116,1031) {Gobierno Integrador\\para Canalización};
\node[lc] (L58) at (1344,1177) {Diseño ajustado y\\abastecido para canalización};
\node[lb] (L59) at (1595,1400) {Provisión\\dinámica de\\recursos\\para\\modulación};
\node[lc] (L60) at (1370,3013) {Gobierno correcto de la decisión consciente};
\node[lc] (L61) at (1736,2530) {Conversión de Dirección en Camino Sostenido};
\node[lb] (L62) at (1259,2478) {Entrega de dirección operativa para\\transfomación estructural};
\node[lc] (L63) at (1677,2467) {Entrega de criterios direccionales\\para preparación y regulación};
\node[lb] (L64) at (1402,2316) {Entrega de\\Provisión\\Preparada y\\Regulada\\para Dirección};
\node[lb] (L65) at (1978,2317) {Entrega\\de unidad\\integrada\\para\\transformación\\estructural};
\node[lb] (L66) at (1870,2668) {Entrega condicionada\\del potencial procesado\\para integración estructural};
\node[lb] (L67) at (2003,2632) {{\FS{8}{10}ם}\,→ U/u{\FS{8}{10}י}};
\node[lr] (L68) at (1704,2607) {Generación de Nuevo Potencial Seminal\\Latente desde el Taller de Manifestación};
\node[lb] (L69) at (1246,2047) {Fuerza\\ activada\\bajo\\coherencia\\de א para\\dirección\\correcta};
\node[lb] (L70) at (1362,2118) {Gobierno\\Superior para\\Dirección\\Correcta};
\node[lr] (L71) at (1492,2009) {Retroalimentación\\de Manifestación\\para Nueva\\Dirección};
\node[lc] (L72) at (1421,1965) {Entrega Contenido};
\node[lb] (L73) at (1092,2096) {Dirección de\\Recursos\\hacia\\Manifestación\\Operativa};
\node[lc] (L74) at (1162,2627) {Entrega post-manifestación\\para organización y regulación};
\node[lc] (L75) at (1122,2697) {Preparación y regulación\\del campo de validación};
\node[lr] (L76) at (1579,2696) {Solicitud de campo\\regulado\\para validación};
\node[lc] (L77) at (1208,2755) {Entrega condicionada de la capacidad procesada\\y transformada desde י para validación profunda};
\node[lb] (L78) at (921,2818) {Gobierno de criterio para validación profunda};
\node[lr] (L79) at (879,2654) {Autorización\\consciente\\hacia\\validación\\profunda};
\node[lc] (L80) at (1344,2956) {Entrega condicionada del Yod procesado, transformado y validado para decisión consciente de ruta};
\node[lc] (L81) at (1736,2835) {Preparación, regulación\\y autorización del potencial};
\node[lc] (L82) at (1730,2907) {Retorno a latencia, reserva o espera};
\node[lc] (L83) at (534,2987) {Soporte estructural estabilizado\\para decisión consciente};
\node[lr] (L84) at (242,2972) {Transferencia del campo\\preparado a decisión\\consciente};
\node[lc] (L85) at (371,2753) {Transferencia de lo preparado\\a estabilización estructural};
\node[lc] (L86) at (896,1494) {Entrega del resultado del camino para integración estable};
\node[lc] (L87) at (474,1503) {Envío de lo corregido hacia validación profunda};
\node[lb] (L88) at (235,2433) {Derivación de\\capacidad\\pendiente\\de validación\\hacia contención regulada};
\node[lb] (L89) at (316,1592) {Salida de contención\\hacia integración estable};
\node[lb] (L90) at (291,1947) {Derivación\\del corte\\hacia\\contención\\regulada};
\node[lb] (L91) at (381,1697) {Herencia del\\criterio de\\contención, tratamiento\\y posible restauración};
\node[lb] (L92) at (423,1917) {Herencia del\\criterio de límite\\y consecuencia\\terminal};
\node[lb] (L93) at (352,2212) {Entrega del\\ veredicto\\según\\alineación};
\node[lb] (L94) at (751,1654) {Herencia del criterio de validación\\profunda de la capacidad};
\node[lb] (L95) at (787,1721) {Entrega de la consecuencia\\del cierre para\\reorientación del camino};
\node[lc] (L96) at (582,2436) {Capacidad validada para revisión interna};
\node[lc] (L97) at (577,2481) {Proyección de coherencia validada\\hacia integración sin daño};
\node[lb] (L98) at (561,2324) {Entrega de fuerza\\autorizada para\\ejecución\\gobernada};
\node[lr] (L99) at (527,2103) {Proyección de\\fuerza activada\\hacia cierre\\irreversible};
\node[lb] (L100) at (580,2117) {Cierre\\Operativo\\del Sistema};
\node[lr] (L101) at (764,2113) {Proyección\\de la\\coherencia\\hacia el\\resultado\\final};
\node[lr] (L102) at (774,2278) {Transferencia\\de Coherencia\\Operativa};
\node[lb] (L103) at (852,1965) {Entrega de\\ Necesidad\\de Validación\\Profunda\\para\\Manifestación\\Operativa};
\node[lr] (L104) at (954,2154) {Manifestación\\Entregada\\para\\Validación\\Profunda};
\node[lb] (L105) at (631,1921) {Entrega de\\Necesidad de\\Cierre para\\Manifestación Operativa};
\node[lc] (L106) at (900,1858) {Activación del י para Manifestación Operativa};
\node[lc] (L107) at (902,1821) {Retorno de Contención Regulada para Manifestación Operativa};
\node[lc] (L108) at (901,1546) {Retorno del camino contenido para reanudación};
\node[lc] (L109) at (916,1587) {Entrega del camino interrumpido\\para contención y preservación};
\node[lr] (L110) at (1239,1756) {Entrega del camino manifestado\\para conducción funcional};
\node[lb] (L111) at (1288,1753) {Entrega de\\necesidad T\raisebox{-0.3ex}{\FS{10}{10}4}\\de camino para\\ensamblaje y\\manifestación};
\node[lc] (L112) at (1403,1551) {Gobierno de la\\Fuerza para\\Manifestación\\Operativa};
\end{tikzpicture}
\end{document}
